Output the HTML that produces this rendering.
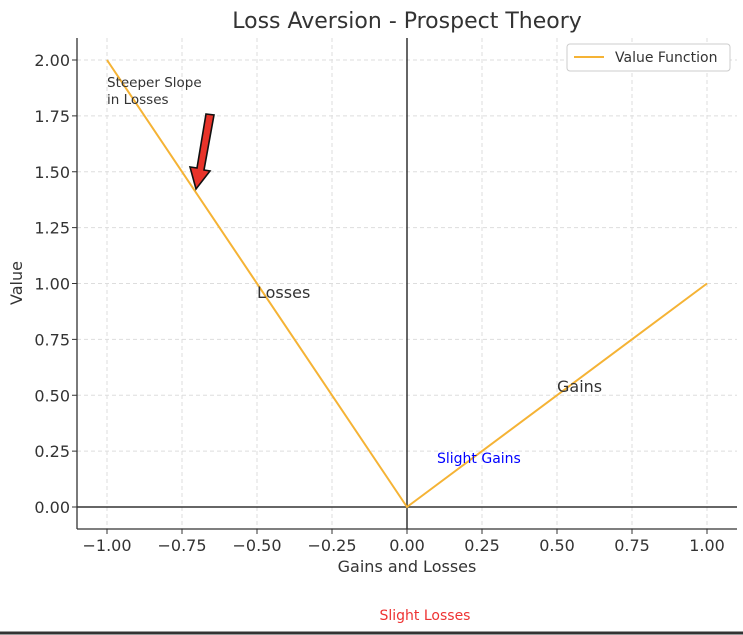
<!DOCTYPE html>
<html><head><meta charset="utf-8"><style>
html,body{margin:0;padding:0;background:#fff;}
svg{display:block;font-family:"DejaVu Sans","Liberation Sans",sans-serif;}
</style></head><body>
<svg id="chart" width="743" height="635" viewBox="0 0 743 635">
<text x="407" y="28" font-size="22" fill="#333" text-anchor="middle">Loss Aversion - Prospect Theory</text>
<g id="grid"></g>
<g id="ticks"></g>
<g id="marks"></g>
<line x1="77" y1="38" x2="77" y2="529" stroke="#333" stroke-width="1.3"/>
<line x1="77" y1="529" x2="737" y2="529" stroke="#333" stroke-width="1.3"/>
<text x="407" y="572" font-size="16" fill="#333" text-anchor="middle">Gains and Losses</text>
<text x="22" y="283" font-size="16" fill="#333" text-anchor="middle" transform="rotate(-90 22 283)">Value</text>
<text x="107" y="87" font-size="13.5" fill="#333"><tspan x="107">Steeper Slope</tspan><tspan x="107" dy="17">in Losses</tspan></text>
<polygon points="206,114 214,115 204,170 210,171 196,189 190,167 197,168" fill="#e8332a" stroke="#111" stroke-width="1.6"/>
<text x="257" y="298" font-size="16" fill="#333">Losses</text>
<text x="557" y="392" font-size="16" fill="#333">Gains</text>
<text x="437" y="463" font-size="14" fill="#0000ff">Slight Gains</text>
<text x="425" y="620" font-size="14" fill="#ee3333" text-anchor="middle">Slight Losses</text>
<g>
<rect x="567" y="44" width="163" height="27" rx="3" fill="#fff" stroke="#ccc"/>
<line x1="574" y1="57" x2="604" y2="57" stroke="#f5b335" stroke-width="2"/>
<text x="615" y="62" font-size="14" fill="#333">Value Function</text>
</g>
<line x1="0" y1="633" x2="743" y2="633" stroke="#333" stroke-width="3"/>
</svg>
<script>
const xValues=[-1,0,1];
const yValues=[2,0,1];
const xTicks=[-1,-0.75,-0.5,-0.25,0,0.25,0.5,0.75,1];
const yTicks=[0,0.25,0.5,0.75,1,1.25,1.5,1.75,2];
const NS="http://www.w3.org/2000/svg";
function sx(v){return 407+v*300;}
function sy(v){return 507-v*223.5;}
function mk(tag,attrs,parent){const e=document.createElementNS(NS,tag);for(const k in attrs)e.setAttribute(k,attrs[k]);parent.appendChild(e);return e;}
const grid=document.getElementById('grid'),ticks=document.getElementById('ticks'),marks=document.getElementById('marks');
function fmt(v){return (v<0?'\u2212':'')+Math.abs(v).toFixed(2);}
xTicks.forEach(v=>{
  const g=mk('line',{x1:sx(v),x2:sx(v),y1:38,y2:529,stroke:'#ddd','stroke-dasharray':'4,3'},grid);
  
  
  const t=mk('line',{x1:sx(v),x2:sx(v),y1:529,y2:534,stroke:'#333'},ticks);
  
  
  const l=mk('text',{x:sx(v),y:551,'font-size':16,fill:'#333','text-anchor':'middle'},ticks);
  l.textContent=fmt(v);
  
  
});
yTicks.forEach(v=>{
  const g=mk('line',{x1:77,x2:737,y1:sy(v),y2:sy(v),stroke:'#ddd','stroke-dasharray':'4,3'},grid);
  
  
  const t=mk('line',{x1:72,x2:77,y1:sy(v),y2:sy(v),stroke:'#333'},ticks);
  
  
  const l=mk('text',{x:70,y:sy(v)+6,'font-size':16,fill:'#333','text-anchor':'end'},ticks);
  l.textContent=fmt(v);
  
  
});
const h=mk('line',{x1:77,x2:737,y1:sy(0),y2:sy(0),stroke:'#333','stroke-width':1.5},marks);


const vl=mk('line',{x1:sx(0),x2:sx(0),y1:38,y2:529,stroke:'#333','stroke-width':1.5},marks);


const p=mk('polyline',{points:xValues.map((x,i)=>sx(x)+','+sy(yValues[i])).join(' '),fill:'none',stroke:'#f5b335','stroke-width':2},marks);


</script>
</body></html>
